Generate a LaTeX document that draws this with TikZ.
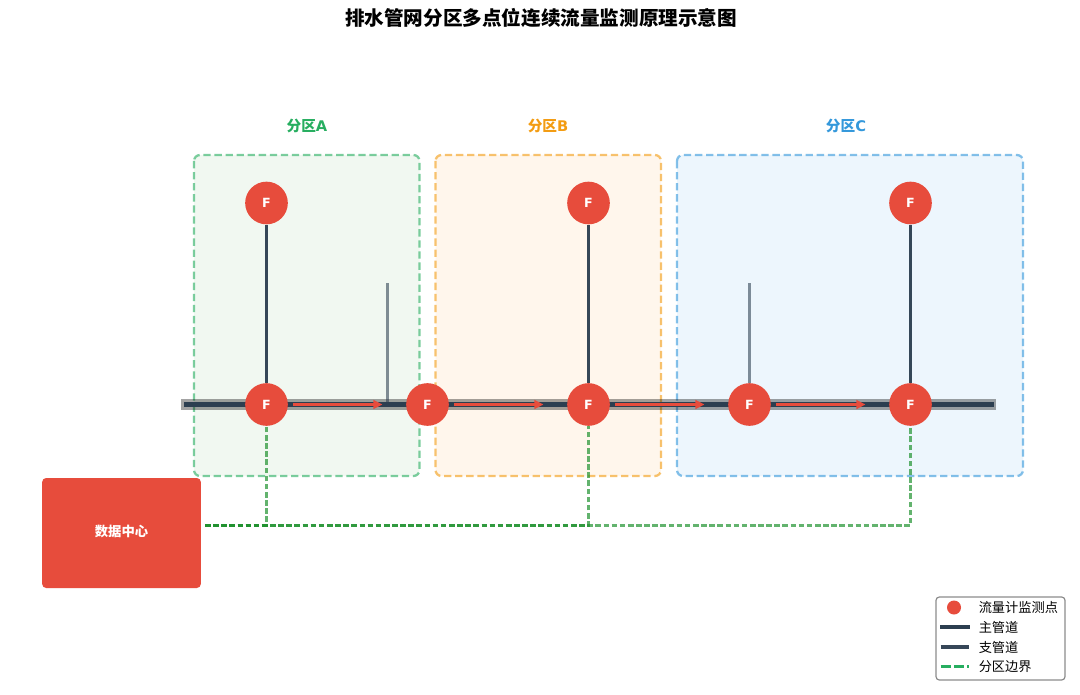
\documentclass[tikz,border=0pt]{standalone}
\usepackage{fontspec}
\setmainfont{DejaVu Sans}
\newfontfamily\cjk{Noto Sans CJK SC}
\usetikzlibrary{arrows.meta}
\definecolor{zred}{HTML}{E74C3C}
\definecolor{zdark}{HTML}{2C3E50}
\definecolor{zgreen}{HTML}{27AE60}
\definecolor{zorange}{HTML}{F39C12}
\definecolor{zblue}{HTML}{3498DB}
\definecolor{zlink}{HTML}{1A8F2A}
\definecolor{zfa}{HTML}{F1F8F1}
\definecolor{zfb}{HTML}{FFF6EC}
\definecolor{zfc}{HTML}{EDF6FD}
\tikzset{
  zone/.style 2 args={rounded corners=4.5pt,line width=1.7pt,dash pattern=on 5.5pt off 2.8pt,draw=#1,draw opacity=.6,fill=#2},
  zonelabel/.style={text=#1,font=\fontsize{11}{13}\selectfont\bfseries},
  meter/.style={circle,fill=zred,inner sep=0pt,minimum size=32pt,text=white,font=\fontsize{9.5}{11}\selectfont\bfseries},
  branch/.style={draw=zdark,line width=2.6pt,opacity=.95},
  stub/.style={draw=zdark,line width=2.3pt,opacity=.58},
  flow/.style={draw=zred,line width=2.25pt,-{Triangle[length=6.75pt,width=6.5pt]},shorten <=3.7pt,shorten >=17.6pt},
  datalink/.style={draw=zlink,line width=1.55pt,dash pattern=on 4.2pt off 1.9pt,opacity=.68},
  legtext/.style={anchor=west,inner sep=0pt,font=\fontsize{9.9}{11}\selectfont\cjk},
}
\begin{document}
\begin{tikzpicture}[x=.75pt,y=-.75pt]
\useasboundingbox (0,0) rectangle (1080,695);
\fill[white] (0,0) rectangle (1080,695);
\node[font=\fontsize{14.7}{17}\selectfont\cjk\bfseries] (title) at (541,17.5) {排水管网分区多点位连续流量监测原理示意图};

\draw[zone={zgreen}{zfa}] (194,155) rectangle (419.5,476);
\draw[zone={zorange}{zfb}] (435.5,155) rectangle (661,476);
\draw[zone={zblue}{zfc}] (677,155) rectangle (1023,476);
\node[zonelabel=zgreen] (la) at (307,126) {{\cjk 分区}A};
\node[zonelabel=zorange] (lb) at (548,126) {{\cjk 分区}B};
\node[zonelabel=zblue] (lc) at (846,126) {{\cjk 分区}C};

\coordinate (pipeL) at (184,404.5);
\coordinate (pipeR) at (994,404.5);
\coordinate (haloL) at (181,404.5);
\coordinate (haloR) at (996,404.5);
\coordinate (stubA) at (387.3,283);
\coordinate (stubB) at (749.5,283);
\coordinate (stubAb) at (387.3,404.5);
\coordinate (hub) at (205,525.5);

\draw[draw=black,opacity=.36,line width=7.8pt] (haloL) -- (haloR);
\draw[draw=zdark,line width=3.05pt] (pipeL) -- (pipeR);

\path
  (266.5,404.5) node[meter] (f1) {F}
  (427.5,404.5) node[meter] (f2) {F}
  (588.5,404.5) node[meter] (f3) {F}
  (749.5,404.5) node[meter] (f4) {F}
  (910.5,404.5) node[meter] (f5) {F}
  (266.5,203) node[meter] (t1) {F}
  (588.5,203) node[meter] (t3) {F}
  (910.5,203) node[meter] (t5) {F};

\draw[branch] (t1) -- (f1);
\draw[branch] (t3) -- (f3);
\draw[branch] (t5) -- (f5);
\draw[stub] (stubA) -- (stubAb);
\draw[stub] (stubB) -- (f4);

\draw[flow] (f1) -- (f2);
\draw[flow] (f2) -- (f3);
\draw[flow] (f3) -- (f4);
\draw[flow] (f4) -- (f5);

\node[fill=zred,rounded corners=3pt,minimum width=119pt,minimum height=82.5pt,inner sep=0pt,text=white,font=\fontsize{10}{12}\selectfont\cjk\bfseries] (dc) at (121.5,533) {\raisebox{3.5pt}{数据中心}};

\draw[datalink] (hub) -| (f1.south);
\draw[datalink] (hub) -| (f3.south);
\draw[datalink] (hub) -| (f5.south);

\draw[draw=black!45,fill=white,fill opacity=.85,line width=.9pt,rounded corners=2.5pt] (936,597) rectangle (1065,680);
\node[circle,fill=zred,inner sep=0pt,minimum size=10.5pt] (k1) at (954,607.5) {};
\draw[draw=zdark,line width=3.6pt] (940,627) -- (970,627);
\draw[draw=zdark,opacity=.95,line width=2.5pt] (940.5,647) -- (969,647);
\draw[draw=zgreen,line width=1.6pt,dash pattern=on 7.5pt off 2.6pt] (940.5,666.5) -- (969,666.5);
\node[legtext] (t1l) at (978.5,607.5) {流量计监测点};
\node[legtext] (t2l) at (978.5,627) {主管道};
\node[legtext] (t3l) at (978.5,647) {支管道};
\node[legtext] (t4l) at (978.5,666.5) {分区边界};
\end{tikzpicture}
\end{document}
